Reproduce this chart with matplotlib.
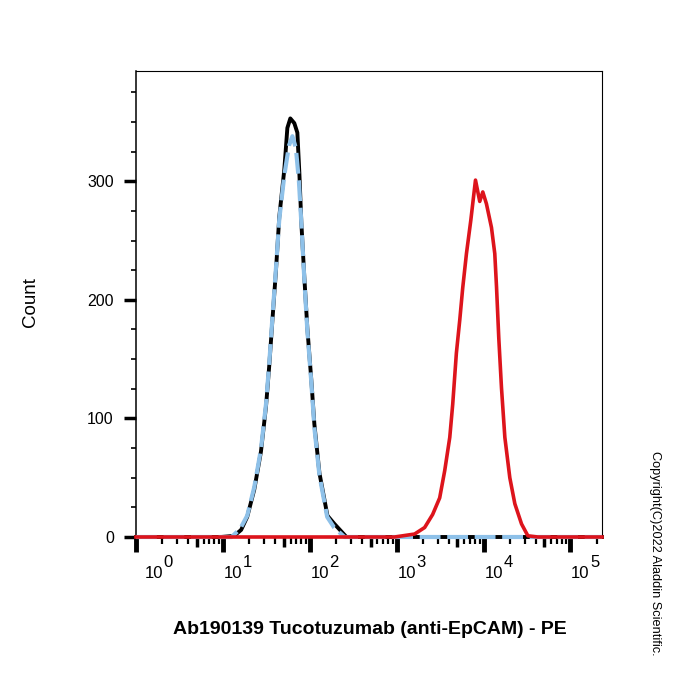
import numpy as np
import matplotlib
matplotlib.use("Agg")
import matplotlib.pyplot as plt
from matplotlib.ticker import MultipleLocator, FixedLocator, NullFormatter

plt.rcParams['font.family'] = ['Liberation Sans', 'DejaVu Sans']

# ---- data (log10 of fluorescence, count) ----
iso_black_log = [0.0, 0.977, 1.130, 1.210, 1.280, 1.361, 1.438, 1.496, 1.534, 1.569,
                 1.611, 1.649, 1.707, 1.742, 1.776, 1.822, 1.857, 1.880, 1.903,
                 1.938, 1.972, 2.018, 2.053, 2.111, 2.203, 2.284, 2.422, 5.363]
iso_black_cnt = [0, 0, 1, 6, 17, 40, 72, 110, 145, 182,
                 225, 270, 310, 345, 353, 349, 341, 307, 265,
                 218, 176, 132, 95, 54, 18, 11, 0, 0]

ctrl_blue_log = [0.0, 1.10, 1.20, 1.280, 1.361, 1.438, 1.496, 1.534, 1.569, 1.611,
                 1.649, 1.707, 1.760, 1.800, 1.840, 1.875, 1.905, 1.938, 1.972,
                 2.018, 2.053, 2.111, 2.200, 2.280, 2.40, 5.363]
ctrl_blue_cnt = [0, 0, 7, 18, 42, 74, 112, 147, 184, 227,
                 268, 305, 330, 338, 328, 300, 262, 216, 174,
                 130, 92, 52, 17, 8, 0, 0]

ab_red_log = [0.0, 2.976, 3.206, 3.322, 3.414, 3.495, 3.553, 3.611, 3.645, 3.687,
              3.726, 3.760, 3.803, 3.853, 3.907, 3.956, 3.991, 4.033, 4.091,
              4.129, 4.149, 4.175, 4.206, 4.245, 4.302, 4.360, 4.437, 4.510,
              4.625, 5.363]
ab_red_cnt = [0, 0, 2.5, 8, 19, 33, 56, 84, 112, 155,
              183, 210, 239, 267, 301, 283, 291, 281, 261,
              239, 211, 168, 126, 84, 50, 28, 11, 1,
              0, 0]

x_decades = [0, 1, 2, 3, 4, 5]
y_ticks = [0, 100, 200, 300]

fig = plt.figure(figsize=(7, 7), dpi=100)
ax = fig.add_axes([136/700, 1 - 537/700, (602 - 136)/700, (537 - 71)/700])

ax.plot(10**np.array(iso_black_log), iso_black_cnt, color='black', lw=2.8,
        zorder=2, clip_on=False, solid_joinstyle='round')
ax.plot(10**np.array(ctrl_blue_log), ctrl_blue_cnt, color='#8ec1e9', lw=3.0,
        dashes=(5.0, 1.6), zorder=3, clip_on=False)
ax.plot(10**np.array(ab_red_log), ab_red_cnt, color='#dd141c', lw=2.6,
        zorder=4, clip_on=False, solid_joinstyle='round')

ax.set_xscale('log')
ax.set_xlim(1, 10**5.363)
ax.set_ylim(0, 393)

# x ticks
ax.xaxis.set_major_locator(FixedLocator([10.0**d for d in x_decades]))
ax.xaxis.set_major_formatter(NullFormatter())
minors = [m * 10.0**d for d in range(0, 6) for m in (2, 3, 4, 6, 7, 8, 9)]
ax.xaxis.set_minor_locator(FixedLocator(minors))
ax.xaxis.set_minor_formatter(NullFormatter())
ax.tick_params(axis='x', which='major', direction='out', length=11, width=3.5)
ax.tick_params(axis='x', which='minor', direction='out', length=5, width=1.6)

sec = ax.secondary_xaxis('bottom')
sec.set_xscale('log')
sec.xaxis.set_major_locator(FixedLocator([5 * 10.0**d for d in range(0, 6)]))
sec.xaxis.set_major_formatter(NullFormatter())
sec.xaxis.set_minor_locator(FixedLocator([]))
sec.tick_params(axis='x', which='major', direction='out', length=7.5, width=2.5)
for s in sec.spines.values():
    s.set_visible(False)

# decade labels: "10" with a full-size raised exponent
for d in x_decades:
    dx = 6.0 if d == 0 else 0.5
    ax.annotate('10', xy=(10.0**d, 0), xycoords=('data', 'axes fraction'),
                xytext=(dx, -29.5), textcoords='offset points',
                ha='left', va='baseline', fontsize=12)
    ax.annotate(str(d), xy=(10.0**d, 0), xycoords=('data', 'axes fraction'),
                xytext=(dx + 13.6, -21.5), textcoords='offset points',
                ha='left', va='baseline', fontsize=12)

# y ticks
ax.yaxis.set_major_locator(FixedLocator(y_ticks))
ax.yaxis.set_minor_locator(MultipleLocator(25))
ax.tick_params(axis='y', which='major', direction='out', length=9, width=2.5,
               pad=7, labelsize=11.5)
ax.tick_params(axis='y', which='minor', direction='out', length=3.5, width=1.2)

for side in ['top', 'right']:
    ax.spines[side].set_linewidth(0.8)
ax.spines['left'].set_linewidth(1.1)
ax.spines['bottom'].set_linewidth(1.5)

fig.text(30/700, 1 - 302/700, 'Count', rotation=90, ha='center', va='center',
         fontsize=13.5)
fig.text(370/700, 1 - 630/700, 'Ab190139 Tucotuzumab (anti-EpCAM) - PE',
         ha='center', va='center', fontsize=14, fontweight='bold')
fig.text(655/700, 1 - 553/700, 'Copyright(C)2022 Aladdin Scientific.',
         rotation=-90, ha='center', va='center', fontsize=9.2)

fig.savefig('out.png', dpi=100)
